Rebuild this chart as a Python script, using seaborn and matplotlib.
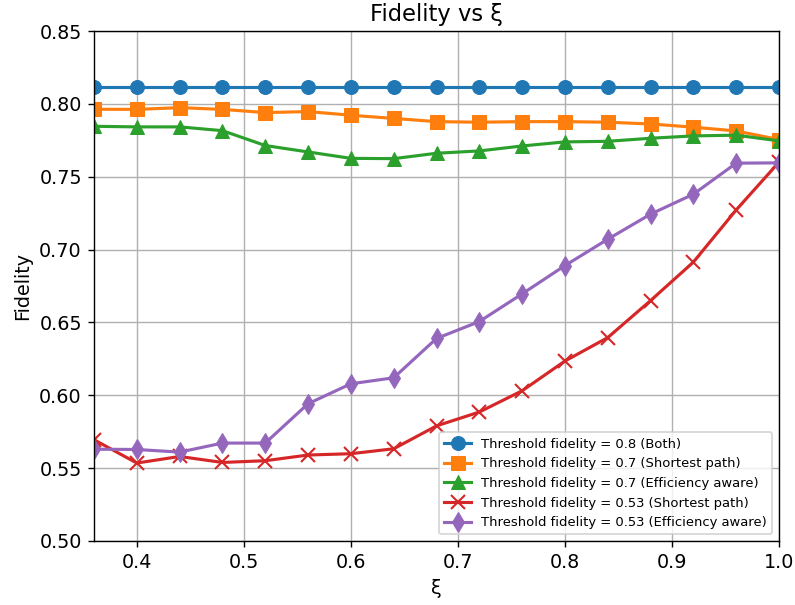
import matplotlib
matplotlib.use("Agg")
import matplotlib.pyplot as plt
import seaborn as sns
import numpy as np

xi = [0.36, 0.40, 0.44, 0.48, 0.52, 0.56, 0.60, 0.64, 0.68,
      0.72, 0.76, 0.80, 0.84, 0.88, 0.92, 0.96, 1.00]

fid_08_both = [0.8115] * 17
fid_07_shortest = [0.7963, 0.7962, 0.7974, 0.7962, 0.7940, 0.7947, 0.7922, 0.7900, 0.7878,
                   0.7874, 0.7878, 0.7878, 0.7874, 0.7862, 0.7840, 0.7814, 0.7755]
fid_07_efficiency = [0.7846, 0.7842, 0.7842, 0.7816, 0.7714, 0.7670, 0.7626, 0.7624, 0.7661,
                     0.7677, 0.7711, 0.7739, 0.7743, 0.7764, 0.7780, 0.7785, 0.7746]
fid_053_shortest = [0.5695, 0.5535, 0.5580, 0.5539, 0.5551, 0.5590, 0.5599, 0.5633, 0.5790,
                    0.5885, 0.6031, 0.6235, 0.6396, 0.6650, 0.6914, 0.7272, 0.7600]
fid_053_efficiency = [0.5630, 0.5628, 0.5610, 0.5672, 0.5672, 0.5942, 0.6079, 0.6120, 0.6390,
                      0.6506, 0.6696, 0.6890, 0.7071, 0.7243, 0.7380, 0.7593, 0.7595]

labels = ["Threshold fidelity = 0.8 (Both)",
          "Threshold fidelity = 0.7 (Shortest path)",
          "Threshold fidelity = 0.7 (Efficiency aware)",
          "Threshold fidelity = 0.53 (Shortest path)",
          "Threshold fidelity = 0.53 (Efficiency aware)"]

series = [fid_08_both, fid_07_shortest, fid_07_efficiency, fid_053_shortest, fid_053_efficiency]
markers = ["o", "s", "^", "x", "d"]
colors = ["#1f77b4", "#ff7f0e", "#2ca02c", "#d62728", "#9467bd"]

fig = plt.figure(figsize=(795 / 125, 605 / 125), dpi=125)
ax = fig.add_axes([94 / 795, 64 / 605, (779 - 94) / 795, (541 - 31) / 605])

for vals, lab, mk, col in zip(series, labels, markers, colors):
    sns.lineplot(x=xi, y=vals, ax=ax, marker=mk, color=col, label=lab,
                 linewidth=1.8, markersize=8,
                 markeredgecolor=col, markeredgewidth=1.2 if mk == "x" else 0.6)

ax.set_xlim(0.36, 1.0)
ax.set_ylim(0.50, 0.85)
ax.set_xticks([0.4, 0.5, 0.6, 0.7, 0.8, 0.9, 1.0])
ax.set_yticks(np.round(np.arange(0.50, 0.851, 0.05), 2))
ax.tick_params(labelsize=11)
ax.grid(True, color="#b0b0b0", linewidth=0.8)
ax.set_xlabel("ξ", fontsize=11)
ax.set_ylabel("Fidelity", fontsize=11)
ax.set_title("Fidelity vs ξ", fontsize=13)
ax.legend(loc="lower right", fontsize=7.6)

fig.savefig("out.png", dpi=125)
